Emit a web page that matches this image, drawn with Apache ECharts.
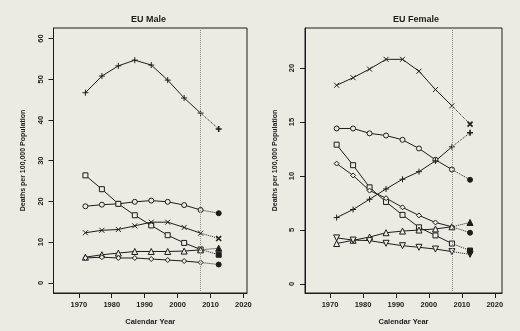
<!DOCTYPE html>
<html>
<head>
<meta charset="utf-8">
<script src="https://cdn.jsdelivr.net/npm/echarts@6/dist/echarts.min.js"></script>
<style>
html, body { margin: 0; padding: 0; background: #ecebe3; }
#chart { width: 520px; height: 331px; }
</style>
</head>
<body>
<div id="chart"></div>
<script>
// observed periods (mid-points) and the predicted year
const years = [1972, 1977, 1982, 1987, 1992, 1997, 2002, 2007];
const cutYear = 2007;
const predYear = 2012.5;
const xTicks = [1970, 1980, 1990, 2000, 2010, 2020];
const maleTicks = [0, 10, 20, 30, 40, 50, 60];
const femaleTicks = [0, 5, 10, 15, 20];

// EU Male
const malePlus = [46.7, 50.8, 53.3, 54.7, 53.5, 49.8, 45.4, 41.7];
const maleCircle = [18.8, 19.2, 19.4, 19.9, 20.2, 19.9, 19.1, 17.9];
const maleSquare = [26.4, 23.0, 19.4, 16.6, 14.1, 11.7, 9.8, 8.2];
const maleCross = [12.3, 12.9, 13.1, 14.0, 14.9, 14.9, 13.6, 12.2];
const maleTriangle = [6.3, 6.9, 7.3, 7.7, 7.7, 7.7, 7.8, 8.1];
const maleDiamond = [6.1, 6.3, 6.1, 6.1, 5.85, 5.6, 5.35, 5.0];
const malePred = [37.8, 17.1, 6.9, 10.9, 8.5, 4.5];

// EU Female
const femaleCross = [18.4, 19.1, 19.9, 20.8, 20.8, 19.7, 18.0, 16.5];
const femaleCircle = [14.4, 14.4, 13.95, 13.75, 13.35, 12.55, 11.5, 10.6];
const femaleSquare = [12.9, 11.0, 8.95, 7.6, 6.4, 5.25, 4.5, 3.75];
const femaleDiamond = [11.15, 10.05, 8.65, 7.95, 7.1, 6.35, 5.7, 5.3];
const femalePlus = [6.15, 6.9, 7.85, 8.8, 9.7, 10.4, 11.4, 12.7];
const femaleTriangle = [3.75, 4.05, 4.35, 4.75, 4.9, 5.0, 5.1, 5.3];
const femaleTriangleDown = [4.27, 4.07, 4.02, 3.77, 3.55, 3.4, 3.24, 3.0];
const femalePred = [14.8, 9.65, 3.1, 4.75, 14.0, 5.7, 2.75];

const BG = '#ecebe3';
const INK = '#1c1c1c';
const FONT = '"Liberation Sans", Arial, sans-serif';

const marks = {
    plus: { symbol: 'path://M5,0L5,10M0,5L10,5', size: 6 },
    cross: { symbol: 'path://M0,0L10,10M10,0L0,10', size: 5 },
    circle: { symbol: 'circle', size: 5 },
    square: { symbol: 'rect', size: 5 },
    triangle: { symbol: 'triangle', size: 6 },
    triangleDown: { symbol: 'triangle', size: 6, rotate: 180 },
    diamond: { symbol: 'diamond', size: 5 }
};
const filled = {
    plus: marks.plus,
    cross: marks.cross,
    circle: { symbol: 'circle', size: 5 },
    square: { symbol: 'rect', size: 5 },
    triangle: { symbol: 'triangle', size: 6 },
    triangleDown: { symbol: 'triangle', size: 6, rotate: 180 },
    diamond: { symbol: 'circle', size: 5 }
};

const makeSeries = (panel, name, markKey, values, pred) => {
    const m = marks[markKey];
    const f = filled[markKey];
    return [
        {
            name: name,
            type: 'line',
            xAxisIndex: panel,
            yAxisIndex: panel,
            z: 3,
            data: years.map((y, i) => [y, values[i]]),
            symbol: m.symbol,
            symbolSize: m.size,
            symbolRotate: m.rotate || 0,
            showAllSymbol: true,
            lineStyle: { color: INK, width: 1 },
            itemStyle: { color: BG, borderColor: INK, borderWidth: 1 }
        },
        {
            name: name + ' pred',
            type: 'line',
            xAxisIndex: panel,
            yAxisIndex: panel,
            z: 2,
            data: [
                { value: [cutYear, values[values.length - 1]], symbol: 'none' },
                [predYear, pred]
            ],
            symbol: f.symbol,
            symbolSize: f.size,
            symbolRotate: f.rotate || 0,
            lineStyle: { color: INK, width: 1, type: 'dotted' },
            itemStyle: { color: INK, borderColor: INK, borderWidth: markKey === 'plus' || markKey === 'cross' ? 1.6 : 1 }
        }
    ];
};

const cutLine = {
    silent: true,
    symbol: ['none', 'none'],
    label: { show: false },
    lineStyle: { type: 'dotted', color: '#8a8a8a', width: 1 },
    data: [{ xAxis: cutYear }]
};

const maleSeries = [
    makeSeries(0, 'M +', 'plus', malePlus, malePred[0]),
    makeSeries(0, 'M o', 'circle', maleCircle, malePred[1]),
    makeSeries(0, 'M sq', 'square', maleSquare, malePred[2]),
    makeSeries(0, 'M x', 'cross', maleCross, malePred[3]),
    makeSeries(0, 'M tri', 'triangle', maleTriangle, malePred[4]),
    makeSeries(0, 'M dia', 'diamond', maleDiamond, malePred[5])
].flat();
maleSeries[0].markLine = cutLine;

const femaleSeries = [
    makeSeries(1, 'F x', 'cross', femaleCross, femalePred[0]),
    makeSeries(1, 'F o', 'circle', femaleCircle, femalePred[1]),
    makeSeries(1, 'F sq', 'square', femaleSquare, femalePred[2]),
    makeSeries(1, 'F dia', 'diamond', femaleDiamond, femalePred[3]),
    makeSeries(1, 'F +', 'plus', femalePlus, femalePred[4]),
    makeSeries(1, 'F tri', 'triangle', femaleTriangle, femalePred[5]),
    makeSeries(1, 'F tridown', 'triangleDown', femaleTriangleDown, femalePred[6])
].flat();
femaleSeries[0].markLine = cutLine;

const xAxisFor = (grid, min, max) => ({
    type: 'value',
    gridIndex: grid,
    min: min,
    max: max,
    name: 'Calendar Year',
    nameLocation: 'middle',
    nameGap: 25,
    nameTextStyle: { fontFamily: FONT, fontSize: 7.5, fontWeight: 'bold', color: INK },
    axisLine: { show: true, onZero: false, lineStyle: { color: INK, width: 1 } },
    axisTick: { show: true, length: 5, customValues: xTicks, lineStyle: { color: INK } },
    axisLabel: {
        customValues: xTicks, margin: 8, formatter: (v) => String(v),
        fontFamily: FONT, fontSize: 7.5, fontWeight: 'bold', color: INK
    },
    splitLine: { show: false }
});

const yAxisFor = (grid, min, max, ticks, gap) => ({
    type: 'value',
    gridIndex: grid,
    min: min,
    max: max,
    name: 'Deaths per 100,000 Population',
    nameLocation: 'middle',
    nameRotate: 90,
    nameGap: gap,
    nameTextStyle: { fontFamily: FONT, fontSize: 7, fontWeight: 'bold', color: INK },
    axisLine: { show: true, onZero: false, lineStyle: { color: INK, width: 1 } },
    axisTick: { show: true, length: 5, customValues: ticks, lineStyle: { color: INK } },
    axisLabel: {
        customValues: ticks, rotate: 90, align: 'center', verticalAlign: 'bottom',
        margin: 9, formatter: (v) => String(v),
        fontFamily: FONT, fontSize: 7.5, fontWeight: 'bold', color: INK
    },
    splitLine: { show: false }
});

const myChart = echarts.init(document.getElementById('chart'));
const option = {
    backgroundColor: BG,
    animation: false,
    title: [
        { text: 'EU Male', left: 131, top: 15, padding: 0,
          textStyle: { fontFamily: FONT, fontSize: 9, fontWeight: 'bold', color: INK } },
        { text: 'EU Female', left: 393, top: 15, padding: 0,
          textStyle: { fontFamily: FONT, fontSize: 9, fontWeight: 'bold', color: INK } }
    ],
    grid: [
        { left: 53.5, right: 273, top: 28, bottom: 35, show: true, borderColor: INK, borderWidth: 1, backgroundColor: 'transparent' },
        { left: 305, right: 18, top: 28, bottom: 38, show: true, borderColor: INK, borderWidth: 1, backgroundColor: 'transparent' }
    ],
    xAxis: [xAxisFor(0, 1962.3, 2021.1), xAxisFor(1, 1962.4, 2022.2)],
    yAxis: [yAxisFor(0, -2.5, 62.6, maleTicks, 27), yAxisFor(1, -0.83, 23.7, femaleTicks, 26)],
    series: maleSeries.concat(femaleSeries)
};
myChart.setOption(option);
</script>
</body>
</html>
